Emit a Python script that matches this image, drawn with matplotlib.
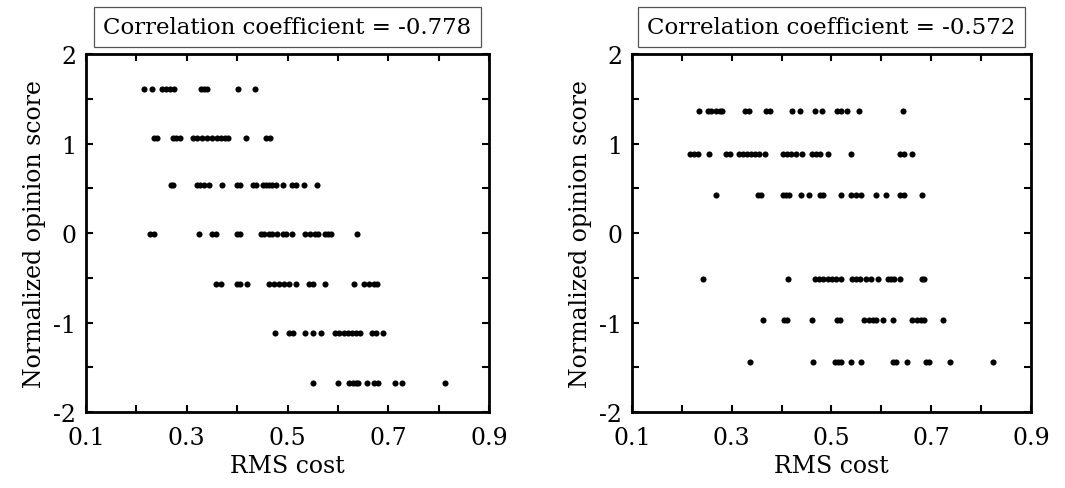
import numpy as np
import matplotlib
matplotlib.use("Agg")
import matplotlib.pyplot as plt

# opinion-score rows (y levels) and RMS cost of each point in that row
left_levels = [1.61, 1.067, 0.54, -0.01, -0.574, -1.119, -1.674]
left_costs = [
    [0.215, 0.230, 0.250, 0.258, 0.266, 0.274, 0.328, 0.334, 0.340, 0.402, 0.436],
    [0.234, 0.240, 0.273, 0.279, 0.286, 0.312, 0.321, 0.331, 0.341, 0.350, 0.359,
     0.367, 0.376, 0.381, 0.417, 0.457, 0.465],
    [0.269, 0.273, 0.320, 0.326, 0.334, 0.344, 0.370, 0.399, 0.406, 0.432, 0.438,
     0.451, 0.457, 0.464, 0.470, 0.477, 0.490, 0.509, 0.516, 0.532, 0.558],
    [0.227, 0.234, 0.325, 0.350, 0.357, 0.399, 0.406, 0.448, 0.454, 0.464, 0.470,
     0.480, 0.490, 0.496, 0.509, 0.535, 0.545, 0.555, 0.561, 0.574, 0.581, 0.587, 0.638],
    [0.357, 0.367, 0.399, 0.406, 0.419, 0.464, 0.474, 0.483, 0.493, 0.503, 0.516,
     0.542, 0.551, 0.574, 0.631, 0.652, 0.662, 0.671, 0.678],
    [0.476, 0.503, 0.511, 0.534, 0.550, 0.566, 0.594, 0.603, 0.613, 0.620, 0.628,
     0.636, 0.644, 0.668, 0.675, 0.689],
    [0.550, 0.601, 0.622, 0.629, 0.636, 0.640, 0.657, 0.671, 0.679, 0.714, 0.727, 0.812],
]

right_levels = [1.367, 0.886, 0.43, -0.51, -0.97, -1.445]
right_costs = [
    [0.235, 0.252, 0.259, 0.269, 0.276, 0.280, 0.327, 0.334, 0.368, 0.376, 0.420,
     0.437, 0.467, 0.482, 0.511, 0.519, 0.532, 0.556, 0.643],
    [0.216, 0.225, 0.232, 0.255, 0.289, 0.296, 0.314, 0.322, 0.330, 0.339, 0.347,
     0.355, 0.367, 0.402, 0.410, 0.418, 0.428, 0.441, 0.461, 0.469, 0.477, 0.494,
     0.540, 0.638, 0.646, 0.662],
    [0.268, 0.352, 0.359, 0.402, 0.408, 0.414, 0.438, 0.454, 0.478, 0.484, 0.519,
     0.539, 0.550, 0.560, 0.590, 0.610, 0.638, 0.646, 0.681],
    [0.242, 0.413, 0.468, 0.476, 0.484, 0.493, 0.502, 0.509, 0.519, 0.542, 0.550,
     0.557, 0.570, 0.580, 0.594, 0.613, 0.620, 0.626, 0.638, 0.682, 0.685],
    [0.363, 0.405, 0.411, 0.462, 0.511, 0.517, 0.565, 0.576, 0.583, 0.590, 0.603,
     0.623, 0.662, 0.672, 0.679, 0.685, 0.724],
    [0.337, 0.464, 0.507, 0.514, 0.520, 0.540, 0.559, 0.623, 0.629, 0.651, 0.689,
     0.695, 0.737, 0.823],
]

coefs = ["-0.778", "-0.572"]

xticks = [0.1, 0.2, 0.3, 0.4, 0.5, 0.6, 0.7, 0.8, 0.9]
xticklabels = ["0.1", "", "0.3", "", "0.5", "", "0.7", "", "0.9"]
yticks = [-2, -1.5, -1, -0.5, 0, 0.5, 1, 1.5, 2]
yticklabels = ["-2", "", "-1", "", "0", "", "1", "", "2"]

plt.rcParams["font.family"] = ["DejaVu Serif"]
fs = 17

fig = plt.figure(figsize=(10.65, 4.89), dpi=100)
positions = [[0.0808, 0.1554, 0.3784, 0.7321], [0.5934, 0.1554, 0.3746, 0.7321]]

for pos, levels, costs, coef in zip(positions, [left_levels, right_levels],
                                    [left_costs, right_costs], coefs):
    ax = fig.add_axes(pos)
    for level, row in zip(levels, costs):
        ax.plot(row, [level] * len(row), "o", color="black", markersize=4.4,
                markeredgewidth=0)
    ax.set_xlim(0.1, 0.9)
    ax.set_ylim(-2, 2)
    ax.set_xticks(xticks)
    ax.set_xticklabels(xticklabels, fontsize=fs)
    ax.set_yticks(yticks)
    ax.set_yticklabels(yticklabels, fontsize=fs)
    ax.tick_params(axis="x", direction="in", length=5, width=1.5, top=True, pad=10)
    ax.tick_params(axis="y", direction="in", length=5, width=1.5, right=True, pad=7)
    for s in ax.spines.values():
        s.set_linewidth(2)
    ax.set_xlabel("RMS cost", fontsize=fs, labelpad=4)
    ax.set_ylabel("Normalized opinion score", fontsize=fs, labelpad=5)
    ax.text(0.5, 1.045, "Correlation coefficient = " + coef, transform=ax.transAxes,
            ha="center", va="bottom", fontsize=16.5,
            bbox=dict(boxstyle="square,pad=0.4", facecolor="white",
                      edgecolor="#555555", linewidth=0.9))

fig.savefig("out.png", dpi=100)
